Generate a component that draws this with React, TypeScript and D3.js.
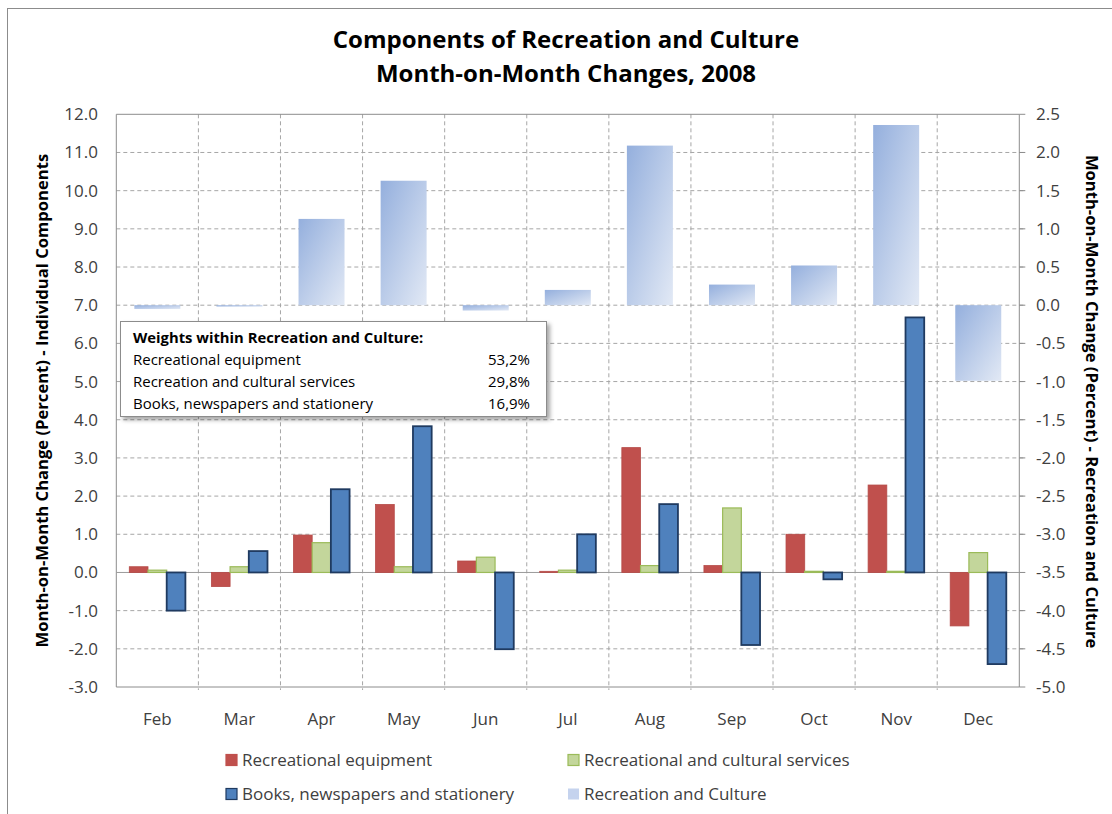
import React from "react";
import * as d3 from "d3";

// Months shown on the category axis
const months = ["Feb", "Mar", "Apr", "May", "Jun", "Jul", "Aug", "Sep", "Oct", "Nov", "Dec"];

// Individual components (left axis, percent month-on-month)
const recreationalEquipment = [0.15, -0.37, 0.98, 1.78, 0.3, 0.03, 3.27, 0.18, 1.0, 2.29, -1.4];
const culturalServices = [0.06, 0.15, 0.78, 0.15, 0.4, 0.06, 0.18, 1.69, 0.03, 0.03, 0.52];
const booksNewspapers = [-1.0, 0.56, 2.18, 3.83, -2.01, 1.0, 1.79, -1.9, -0.18, 6.68, -2.4];

// Aggregate index (right axis)
const recreationAndCulture = [-0.05, -0.02, 1.13, 1.63, -0.07, 0.2, 2.09, 0.27, 0.52, 2.36, -0.99];

const leftTicks = [-3, -2, -1, 0, 1, 2, 3, 4, 5, 6, 7, 8, 9, 10, 11, 12];
const rightTicks = [-5, -4.5, -4, -3.5, -3, -2.5, -2, -1.5, -1, -0.5, 0, 0.5, 1, 1.5, 2, 2.5];

const weightLabels = [
  "Recreational equipment",
  "Recreation and cultural services",
  "Books, newspapers and stationery",
];
const weightValues = ["53,2%", "29,8%", "16,9%"];

const seriesNames = [
  "Recreational equipment",
  "Recreational and cultural services",
  "Books, newspapers and stationery",
  "Recreation and Culture",
];

const FONT = "'Open Sans', 'DejaVu Sans', sans-serif";
const W = 1112;
const H = 814;

const plot = { left: 116.3, right: 1019.3, top: 114.3, bottom: 687 };

const x = d3.scaleBand<string>().domain(months).range([plot.left, plot.right]).padding(0);
const yL = d3.scaleLinear().domain([-3, 12]).range([plot.bottom, plot.top]);
const yR = d3.scaleLinear().domain([-5, 2.5]).range([plot.bottom, plot.top]);

// Clustered bars: three series, gap width ~139% of a bar
const clusterGap = 1.39;
const barW = x.bandwidth() / (3 + clusterGap);
// Secondary series: one wide bar, gap width ~78%
const secGap = 0.785;
const secW = x.bandwidth() / (1 + secGap);

const primarySeries = [
  { values: recreationalEquipment, fill: "#C0504D", stroke: "#B54A47", sw: 0.8 },
  { values: culturalServices, fill: "#C3D69B", stroke: "#9BBB59", sw: 1.2 },
  { values: booksNewspapers, fill: "#4F81BD", stroke: "#1F3A60", sw: 1.8 },
];

function barRect(scale: d3.ScaleLinear<number, number>, v: number) {
  const y0 = scale(0);
  const y1 = scale(v);
  return { y: Math.min(y0, y1), h: Math.abs(y1 - y0) };
}

export default function App() {
  const gridColor = "#A6A6A6";
  const textColor = "#404040";

  return (
    <svg
      width={W}
      height={H}
      viewBox={`0 0 ${W} ${H}`}
      style={{ position: "absolute", left: 0, top: 0, background: "#fff" }}
      fontFamily={FONT}
    >
      <defs>
        <linearGradient id="rcGrad" x1="0" y1="0" x2="1" y2="1">
          <stop offset="0%" stopColor="#94AFDD" />
          <stop offset="100%" stopColor="#E2E9F5" />
        </linearGradient>
        <filter id="boxShadow" x="-5%" y="-10%" width="115%" height="130%">
          <feDropShadow dx="3" dy="3" stdDeviation="2" floodColor="#000" floodOpacity="0.35" />
        </filter>
      </defs>

      {/* outer chart frame */}
      <rect x={7.5} y={8.5} width={1300} height={1000} fill="#fff" stroke="#8C8C8C" strokeWidth={1} />

      {/* title */}
      <text x={566} y={48} textAnchor="middle" fontSize={24} fontWeight="bold" fill="#000">
        Components of Recreation and Culture
      </text>
      <text x={566} y={82} textAnchor="middle" fontSize={24} fontWeight="bold" fill="#000">
        Month-on-Month Changes, 2008
      </text>

      {/* horizontal gridlines */}
      {leftTicks
        .filter((t) => t !== -3 && t !== 12 && t !== 0)
        .map((t) => (
          <line
            key={`hg${t}`}
            x1={plot.left}
            x2={plot.right + 6}
            y1={yL(t)}
            y2={yL(t)}
            stroke={gridColor}
            strokeWidth={1}
            strokeDasharray="4 3"
          />
        ))}
      {/* vertical gridlines at category boundaries */}
      {months.slice(1).map((m) => (
        <line
          key={`vg${m}`}
          x1={x(m)!}
          x2={x(m)!}
          y1={plot.top}
          y2={plot.bottom + 3}
          stroke={gridColor}
          strokeWidth={1}
          strokeDasharray="4 3"
        />
      ))}

      {/* plot border */}
      <line x1={plot.left} x2={plot.right} y1={plot.top} y2={plot.top} stroke="#8C8C8C" />
      <line x1={plot.left} x2={plot.left} y1={plot.top} y2={plot.bottom} stroke="#8C8C8C" />
      <line x1={plot.left} x2={plot.right} y1={plot.bottom} y2={plot.bottom} stroke="#8C8C8C" />
      <line x1={plot.right} x2={plot.right} y1={plot.top} y2={plot.bottom} stroke="#8C8C8C" />

      {/* zero line of the category axis */}
      <line x1={plot.left} x2={plot.right} y1={yL(0)} y2={yL(0)} stroke="#9A9A9A" strokeWidth={1} />

      {/* right axis tick marks */}
      {rightTicks.map((t) => (
        <line key={`rt${t}`} x1={plot.right} x2={plot.right + 6} y1={yR(t)} y2={yR(t)} stroke="#8C8C8C" />
      ))}

      {/* Recreation and Culture bars (secondary axis) */}
      {recreationAndCulture.map((v, i) => {
        const m = months[i];
        const cx = x(m)! + x.bandwidth() / 2;
        const r = barRect(yR, v);
        return <rect key={`rc${m}`} x={cx - secW / 2} y={r.y} width={secW} height={Math.max(r.h, 1)} fill="url(#rcGrad)" />;
      })}

      {/* clustered component bars (primary axis) */}
      {primarySeries.map((s, si) =>
        s.values.map((v, i) => {
          const m = months[i];
          const cx = x(m)! + x.bandwidth() / 2;
          const gx = cx - (3 * barW) / 2 + si * barW;
          const r = barRect(yL, v);
          return (
            <rect
              key={`p${si}${m}`}
              x={gx}
              y={r.y}
              width={barW}
              height={Math.max(r.h, 1)}
              fill={s.fill}
              stroke={s.stroke}
              strokeWidth={s.sw}
            />
          );
        })
      )}

      {/* left axis labels */}
      {leftTicks.map((t) => (
        <text key={`lt${t}`} x={98} y={yL(t)} dy="0.35em" textAnchor="end" fontSize={17} fill={textColor}>
          {t.toFixed(1)}
        </text>
      ))}
      {/* right axis labels */}
      {rightTicks.map((t) => (
        <text key={`rl${t}`} x={1036} y={yR(t)} dy="0.35em" textAnchor="start" fontSize={17} fill={textColor}>
          {t.toFixed(1)}
        </text>
      ))}
      {/* category labels */}
      {months.map((m) => (
        <text key={`xl${m}`} x={x(m)! + x.bandwidth() / 2} y={725} textAnchor="middle" fontSize={17} fill={textColor}>
          {m}
        </text>
      ))}

      {/* axis titles */}
      <text
        transform={`translate(48, ${(plot.top + plot.bottom) / 2}) rotate(-90)`}
        textAnchor="middle"
        fontSize={16.6}
        fontWeight="bold"
        fill="#000"
      >
        Month-on-Month Change (Percent) - Individual Components
      </text>
      <text
        transform={`translate(1086, ${(plot.top + plot.bottom) / 2 + 1}) rotate(90)`}
        textAnchor="middle"
        fontSize={16.6}
        fontWeight="bold"
        fill="#000"
      >
        Month-on-Month Change (Percent) - Recreation and Culture
      </text>

      {/* weights annotation box */}
      <g>
        <rect x={120.5} y={321.5} width={426} height={95} fill="#fff" stroke="#8C8C8C" filter="url(#boxShadow)" />
        <text x={133} y={343} fontSize={14.8} fontWeight="bold" fill="#000">
          Weights within Recreation and Culture:
        </text>
        {weightLabels.map((l, i) => (
          <g key={`w${i}`}>
            <text x={133} y={365 + i * 22} fontSize={15} fill="#000">
              {l}
            </text>
            <text x={530} y={365 + i * 22} fontSize={15} fill="#000" textAnchor="end">
              {weightValues[i]}
            </text>
          </g>
        ))}
      </g>

      {/* legend */}
      {seriesNames.map((name, i) => {
        const col = i % 2;
        const row = Math.floor(i / 2);
        const sx = col === 0 ? 226 : 568;
        const sy = row === 0 ? 760 : 794;
        const sw = [
          { fill: "#C0504D", stroke: "#C0504D" },
          { fill: "#C3D69B", stroke: "#9BBB59" },
          { fill: "#4F81BD", stroke: "#1F3A60" },
          { fill: "#C5D3EE", stroke: "none" },
        ][i];
        return (
          <g key={`lg${i}`}>
            <rect x={sx} y={sy - 5.5} width={11} height={11} fill={sw.fill} stroke={sw.stroke} strokeWidth={1.2} />
            <text x={sx + 16} y={sy} dy="0.35em" fontSize={17} fill={textColor}>
              {name}
            </text>
          </g>
        );
      })}
    </svg>
  );
}
